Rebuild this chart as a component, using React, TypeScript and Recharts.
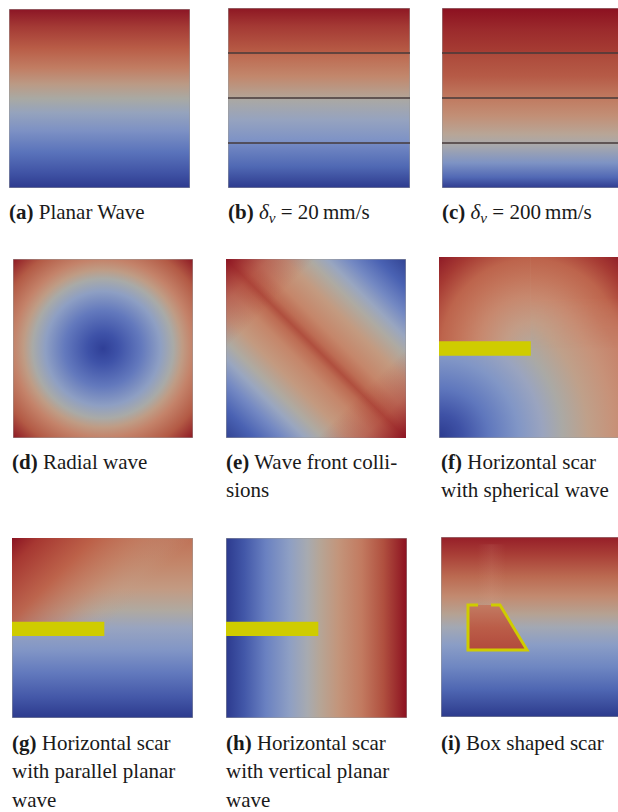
import React from "react";
import { ComposedChart, XAxis, YAxis, ReferenceArea, ReferenceLine, Area, Line } from "recharts";

// [offset, colour, opacity]; offset 0 is the start of the gradient vector
type Stop = [number, string, number?];

// activation-time colour ramps
const RAMP_A: Stop[] = [
  [0, "#8c1525"], [0.1, "#a43a35"], [0.22, "#b95d47"], [0.33, "#c17d63"], [0.42, "#bb9a85"],
  [0.5, "#a9a9a3"], [0.58, "#95a3bd"], [0.68, "#7d91c4"], [0.8, "#5a73bb"], [0.92, "#3f52a4"], [1, "#2d3a8e"],
];
const RAMP_B: Stop[] = [
  [0, "#8e1723"], [0.1, "#a43934"], [0.24, "#b75b45"], [0.26, "#bd6a51"], [0.38, "#c2876c"],
  [0.49, "#b4a293"], [0.51, "#aaa8a4"], [0.62, "#96a3bf"], [0.74, "#7d92c6"], [0.76, "#7288c3"],
  [0.88, "#5069b4"], [1, "#2d3a8e"],
];
const RAMP_C: Stop[] = [
  [0, "#8c1020"], [0.12, "#9b2a2c"], [0.24, "#a63c33"], [0.26, "#ad4a3b"], [0.38, "#b65b47"],
  [0.5, "#c07a60"], [0.6, "#c28f76"], [0.7, "#b8a596"], [0.76, "#a9a9ab"], [0.86, "#7e93c4"],
  [0.94, "#5269b5"], [1, "#2f3b8f"],
];
const RAMP_D: Stop[] = [
  [0, "#2f3f97"], [0.12, "#3e52a8"], [0.3, "#6379bd"], [0.45, "#8e9fc3"], [0.55, "#a9aaa7"],
  [0.62, "#bf9c85"], [0.7, "#c4836a"], [0.85, "#b35a45"], [1, "#8c1622"],
];
const RAMP_E: Stop[] = [
  [0, "#324494"], [0.08, "#4a62b3"], [0.16, "#7489c3"], [0.22, "#99a6c0"], [0.27, "#aeaaa2"],
  [0.34, "#c39a80"], [0.42, "#c5866a"], [0.47, "#bd6c53"], [0.5, "#b04f3e"], [0.53, "#bd6c53"],
  [0.58, "#c5866a"], [0.66, "#c39a80"], [0.73, "#aeaaa2"], [0.78, "#99a6c0"], [0.84, "#7489c3"],
  [0.92, "#4a62b3"], [1, "#324494"],
];
const RAMP_E_RIDGE: Stop[] = [
  [0, "#8a1020", 0.95], [0.12, "#a53030", 0.4], [0.25, "#a53030", 0], [0.75, "#a53030", 0],
  [0.88, "#a53030", 0.4], [1, "#8a1020", 0.95],
];
const RAMP_F_LOW: Stop[] = [
  [0, "#2b3a8e"], [0.12, "#3f52a6"], [0.25, "#5f77bd"], [0.4, "#8196c6"], [0.52, "#9aa4bf"],
  [0.62, "#aaa9a5"], [0.75, "#bfa08a"], [0.88, "#c79279"], [1, "#c6826a"],
];
const RAMP_F_HIGH: Stop[] = [
  [0, "#b4a79c"], [0.2, "#c39c86"], [0.4, "#c7886e"], [0.55, "#c3755b"], [0.69, "#bd644c"],
  [0.85, "#a63a33"], [1, "#8e1a26"],
];
// fade of the upper field into the lower one to the right of the scar tip
const RAMP_F_FADE: Stop[] = [[0, "#fff"], [0.45, "#fff"], [1, "#000"]];
const RAMP_G: Stop[] = [
  [0, "#bf7257"], [0.15, "#c3876b"], [0.28, "#c39a82"], [0.4, "#b0a9a0"], [0.5, "#98a4c0"],
  [0.62, "#8296c6"], [0.75, "#6279bd"], [0.88, "#4559a9"], [1, "#2c3a8d"],
];
const RAMP_G_WAKE: Stop[] = [
  [0, "#8a1322", 1], [0.15, "#a5342f", 0.95], [0.45, "#bc5e46", 0.9], [0.7, "#c37f64", 0.6],
  [0.9, "#c39a82", 0.2], [1, "#c39a82", 0],
];
const RAMP_H: Stop[] = [
  [0, "#2c3a8e"], [0.1, "#4257a8"], [0.22, "#6a81c1"], [0.35, "#8e9fc4"], [0.45, "#a7aab0"],
  [0.52, "#b6a596"], [0.62, "#c3957b"], [0.75, "#c27a60"], [0.87, "#b0503f"], [1, "#8c1020"],
];
const RAMP_I: Stop[] = [
  [0, "#961e28"], [0.1, "#a93f37"], [0.22, "#bb6a51"], [0.33, "#c28a70"], [0.43, "#b5a293"],
  [0.5, "#a3a8b3"], [0.6, "#8a9dc6"], [0.72, "#6f87c2"], [0.85, "#4e66b2"], [1, "#2c3a8c"],
];
const RAMP_I_BOX: Stop[] = [[0, "#c27a62"], [0.5, "#bb5d48"], [1, "#b24a3c"]];
const RAMP_I_STREAK: Stop[] = [[0, "#e0ac98", 0], [0.5, "#e0ac98", 0.1], [1, "#e0ac98", 0]];

// domain corners of every panel (x and y run 0..1, y = 1 at the top)
const FRAME = [{ x: 0, y: 0 }, { x: 1, y: 1 }];
const ISOLINES_B = [0.75, 0.5, 0.25];
const ISOLINES_C = [0.75, 0.5, 0.25];
const SCAR_X = [0, 0.51];
const SCAR_Y = [0.455, 0.535];
const BOX_SCAR_FILL = [
  { x: 0.15, band: [0.372, 0.622] },
  { x: 0.328, band: [0.372, 0.622] },
  { x: 0.478, band: [0.372, 0.372] },
];
const BOX_SCAR_OUTLINE = [
  { x: 0.278, y: 0.622 },
  { x: 0.328, y: 0.622 },
  { x: 0.478, y: 0.372 },
  { x: 0.15, y: 0.372 },
  { x: 0.15, y: 0.622 },
  { x: 0.206, y: 0.622 },
];

const CAPTIONS = [
  { tag: "a", lines: ["Planar Wave"] },
  { tag: "b", lines: ["δv = 20\u2009mm/s"] },
  { tag: "c", lines: ["δv = 200\u2009mm/s"] },
  { tag: "d", lines: ["Radial wave"] },
  { tag: "e", lines: ["Wave front colli-", "sions"] },
  { tag: "f", lines: ["Horizontal scar", "with spherical wave"] },
  { tag: "g", lines: ["Horizontal scar", "with parallel planar", "wave"] },
  { tag: "h", lines: ["Horizontal scar", "with vertical planar", "wave"] },
  { tag: "i", lines: ["Box shaped scar"] },
];

type Box = { left: number; top: number; w: number; h: number };
const BOXES: Record<string, Box> = {
  a: { left: 9, top: 9, w: 181, h: 179 },
  b: { left: 228, top: 8, w: 182, h: 180 },
  c: { left: 442, top: 8, w: 180, h: 180 },
  d: { left: 13, top: 259, w: 180, h: 179 },
  e: { left: 226, top: 259, w: 180, h: 179 },
  f: { left: 439, top: 257, w: 180, h: 181 },
  g: { left: 12, top: 538, w: 181, h: 180 },
  h: { left: 226, top: 538, w: 181, h: 180 },
  i: { left: 441, top: 537, w: 180, h: 180 },
};
const CAPTION_TOP = [197.5, 447.5, 728.5];
const CAPTION_LEFT = [[9, 228, 442], [12, 226, 441], [12, 226, 441]];

const SCAR_YELLOW = "#cfcc00";
const EDGE = "#9a9a9a";
const NO_MARGIN = { top: 0, right: 0, bottom: 0, left: 0 };

const stops = (s: Stop[]) =>
  s.map(([o, c, a], i) => <stop key={i} offset={o} stopColor={c} stopOpacity={a ?? 1} />);

function Panel({ box, data = FRAME, children }: { box: Box; data?: any[]; children: React.ReactNode }) {
  return (
    <div style={{ position: "absolute", left: box.left, top: box.top }}>
      <ComposedChart width={box.w} height={box.h} data={data} margin={NO_MARGIN}>
        <XAxis dataKey="x" type="number" domain={[0, 1]} hide />
        <YAxis type="number" domain={[0, 1]} hide />
        {/* invisible series so the axes get a domain and the areas are drawn */}
        <Line dataKey="y" stroke="none" dot={false} activeDot={false} isAnimationActive={false} />
        {children}
      </ComposedChart>
    </div>
  );
}

const full = (id: string) => (
  <ReferenceArea x1={0} x2={1} y1={0} y2={1} fill={`url(#${id})`} fillOpacity={1} stroke={EDGE} strokeWidth={1} />
);

const scar = (
  <ReferenceArea x1={SCAR_X[0]} x2={SCAR_X[1]} y1={SCAR_Y[0]} y2={SCAR_Y[1]} fill={SCAR_YELLOW} fillOpacity={1} stroke="none" />
);

function renderLine(s: string) {
  const parts = s.split("δv");
  if (parts.length === 1) return s;
  return (
    <>
      {parts[0]}
      <i>δ</i>
      <i style={{ fontSize: "0.72em", position: "relative", top: "0.3em" }}>v</i>
      {parts[1]}
    </>
  );
}

export default function App() {
  const f = BOXES.f;
  const g = BOXES.g;
  // scar tip in panel pixels, used as the centre of the wave bending round it
  const fTip = { x: SCAR_X[1] * f.w, y: (1 - (SCAR_Y[0] + SCAR_Y[1]) / 2) * f.h };
  const gTip = { x: SCAR_X[1] * g.w, y: (1 - (SCAR_Y[0] + SCAR_Y[1]) / 2) * g.h };

  return (
    <div
      style={{
        position: "fixed",
        left: 0,
        top: 0,
        width: 618,
        height: 812,
        overflow: "hidden",
        background: "#fff",
        fontFamily: "'Liberation Serif', 'Times New Roman', serif",
      }}
    >
      <Panel box={BOXES.a}>
        <defs>
          <linearGradient id="ga" x1={0} y1={0} x2={0} y2={1}>{stops(RAMP_A)}</linearGradient>
        </defs>
        {full("ga")}
      </Panel>

      <Panel box={BOXES.b}>
        <defs>
          <linearGradient id="gb" x1={0} y1={0} x2={0} y2={1}>{stops(RAMP_B)}</linearGradient>
        </defs>
        {full("gb")}
        {ISOLINES_B.map((v) => (
          <ReferenceLine key={v} y={v} stroke="#463a3a" strokeWidth={1.7} />
        ))}
      </Panel>

      <Panel box={BOXES.c}>
        <defs>
          <linearGradient id="gc" x1={0} y1={0} x2={0} y2={1}>{stops(RAMP_C)}</linearGradient>
        </defs>
        {full("gc")}
        {ISOLINES_C.map((v) => (
          <ReferenceLine key={v} y={v} stroke="#463a3a" strokeWidth={1.7} />
        ))}
      </Panel>

      <Panel box={BOXES.d}>
        <defs>
          <radialGradient id="gd" cx={0.5} cy={0.5} r={0.71}>{stops(RAMP_D)}</radialGradient>
        </defs>
        {full("gd")}
      </Panel>

      <Panel box={BOXES.e}>
        <defs>
          <linearGradient id="ge" x1={1} y1={0} x2={0} y2={1}>{stops(RAMP_E)}</linearGradient>
          <linearGradient id="ge2" x1={0} y1={0} x2={1} y2={1}>{stops(RAMP_E_RIDGE)}</linearGradient>
        </defs>
        {full("ge")}
        <ReferenceArea x1={0} x2={1} y1={0} y2={1} fill="url(#ge2)" fillOpacity={1} stroke="none" />
      </Panel>

      <Panel box={f}>
        <defs>
          <radialGradient id="gf" gradientUnits="userSpaceOnUse" cx={0} cy={f.h} r={f.h * 1.1}>
            {stops(RAMP_F_LOW)}
          </radialGradient>
          <radialGradient id="gf2" gradientUnits="userSpaceOnUse" cx={fTip.x} cy={fTip.y} r={f.w * 0.72}>
            {stops(RAMP_F_HIGH)}
          </radialGradient>
          <linearGradient id="gf3" x1={0} y1={0} x2={0} y2={1}>{stops(RAMP_F_FADE)}</linearGradient>
          <mask id="mf" maskContentUnits="objectBoundingBox">
            <rect x={0} y={0} width={SCAR_X[1]} height={1} fill="#fff" />
            <rect x={SCAR_X[1]} y={0} width={1 - SCAR_X[1]} height={1} fill="url(#gf3)" />
          </mask>
        </defs>
        {full("gf")}
        <ReferenceArea
          x1={0}
          x2={1}
          y1={0.495}
          y2={1}
          fill="url(#gf2)"
          fillOpacity={1}
          stroke="none"
          mask="url(#mf)"
        />
        {scar}
      </Panel>

      <Panel box={g}>
        <defs>
          <linearGradient id="gg" x1={0} y1={0} x2={0} y2={1}>{stops(RAMP_G)}</linearGradient>
          <linearGradient id="gg2" gradientUnits="userSpaceOnUse" x1={0} y1={0} x2={gTip.x} y2={gTip.y}>
            {stops(RAMP_G_WAKE)}
          </linearGradient>
        </defs>
        {full("gg")}
        <ReferenceArea x1={0} x2={1} y1={0.495} y2={1} fill="url(#gg2)" fillOpacity={1} stroke="none" />
        {scar}
      </Panel>

      <Panel box={BOXES.h}>
        <defs>
          <linearGradient id="gh" x1={0} y1={0} x2={1} y2={0}>{stops(RAMP_H)}</linearGradient>
        </defs>
        {full("gh")}
        {scar}
      </Panel>

      <Panel box={BOXES.i} data={BOX_SCAR_FILL}>
        <defs>
          <linearGradient id="gi" x1={0} y1={0} x2={0} y2={1}>{stops(RAMP_I)}</linearGradient>
          <linearGradient id="gi2" x1={0} y1={0} x2={0} y2={1}>{stops(RAMP_I_BOX)}</linearGradient>
          <linearGradient id="gi3" x1={0} y1={0} x2={1} y2={0}>{stops(RAMP_I_STREAK)}</linearGradient>
        </defs>
        {full("gi")}
        <ReferenceArea x1={0.2} x2={0.36} y1={0.622} y2={0.96} fill="url(#gi3)" fillOpacity={1} stroke="none" />
        <Area
          dataKey="band"
          type="linear"
          fill="url(#gi2)"
          fillOpacity={1}
          stroke="none"
          isAnimationActive={false}
        />
        <Line
          data={BOX_SCAR_OUTLINE}
          dataKey="y"
          type="linear"
          stroke={SCAR_YELLOW}
          strokeWidth={3}
          strokeLinejoin="miter"
          dot={false}
          activeDot={false}
          isAnimationActive={false}
        />
      </Panel>

      {CAPTIONS.map((cap, i) => {
        const row = Math.floor(i / 3);
        const col = i % 3;
        return (
          <div
            key={cap.tag}
            style={{
              position: "absolute",
              left: CAPTION_LEFT[row][col],
              top: CAPTION_TOP[row],
              fontSize: 21,
              lineHeight: "28.5px",
              color: "#1a1a1a",
              whiteSpace: "nowrap",
            }}
          >
            {cap.lines.map((ln, j) => (
              <div key={j}>
                {j === 0 && <b>({cap.tag})</b>}
                {j === 0 && " "}
                {renderLine(ln)}
              </div>
            ))}
          </div>
        );
      })}
    </div>
  );
}
